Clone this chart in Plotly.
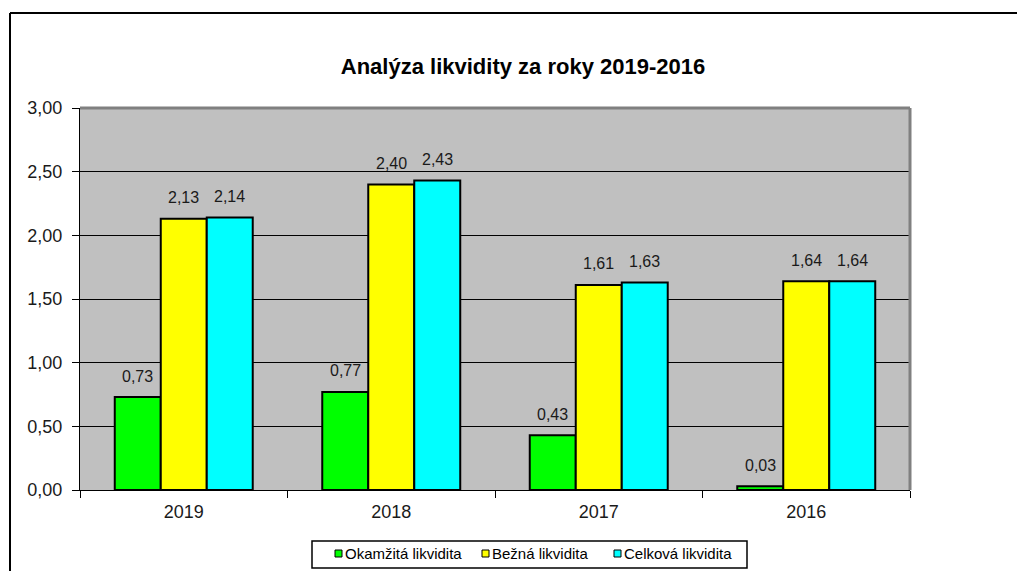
import plotly.graph_objects as go

categories = ["2019", "2018", "2017", "2016"]
okamzita = [0.73, 0.77, 0.43, 0.03]
bezna = [2.13, 2.40, 1.61, 1.64]
celkova = [2.14, 2.43, 1.63, 1.64]
series_names = ["Okamžitá likvidita", "Bežná likvidita", "Celková likvidita"]
series_colors = ["#00FF00", "#FFFF00", "#00FFFF"]
series_values = [okamzita, bezna, celkova]

FONT = "Liberation Sans, Arial, sans-serif"

W, H = 1017, 571
L, R, T, B = 80, W - 910, 108, H - 490
pw, ph = W - L - R, H - T - B


def px_x(p):
    return (p - L) / pw


def px_y(p):
    return (H - B - p) / ph


fig = go.Figure()
for name, color, vals in zip(series_names, series_colors, series_values):
    fig.add_trace(go.Bar(
        x=categories, y=vals, name=name,
        marker=dict(color=color, line=dict(color="#000000", width=2)),
        showlegend=False,
    ))

# data labels above bars
bar_px = (pw / len(categories)) * (1 - 0.335) / 3
annotations = []
for i, vals in enumerate(series_values):
    for ci, v in enumerate(vals):
        annotations.append(dict(
            x=ci, y=v, xref="x", yref="y",
            text=f"{v:.2f}".replace(".", ","),
            showarrow=False, xshift=(i - 1) * bar_px, yshift=21,
            yanchor="middle",
            font=dict(family=FONT, size=16, color="#1a1a1a"),
        ))

shapes = [
    # plot area top/right gray border
    dict(type="line", xref="paper", yref="paper", x0=0, x1=1, y0=1, y1=1,
         line=dict(color="#808080", width=3)),
    dict(type="line", xref="paper", yref="paper", x0=1, x1=1, y0=0, y1=1,
         line=dict(color="#808080", width=3)),
    # outer chart border
    dict(type="line", xref="paper", yref="paper", x0=px_x(10), x1=px_x(1030),
         y0=px_y(13), y1=px_y(13), line=dict(color="#000000", width=2)),
    dict(type="line", xref="paper", yref="paper", x0=px_x(10), x1=px_x(10),
         y0=px_y(13), y1=px_y(600), line=dict(color="#000000", width=2)),
    # legend box
    dict(type="rect", xref="paper", yref="paper",
         x0=px_x(312), x1=px_x(747), y0=px_y(541), y1=px_y(568),
         line=dict(color="#000000", width=1.5), fillcolor="#FFFFFF", layer="above"),
]

# legend entries (markers + text)
legend_marker_x = [335, 482, 614]
for mx, name, color in zip(legend_marker_x, series_names, series_colors):
    shapes.append(dict(
        type="rect", xref="paper", yref="paper",
        x0=px_x(mx), x1=px_x(mx + 7), y0=px_y(550), y1=px_y(557),
        line=dict(color="#000000", width=1), fillcolor=color, layer="above",
    ))
    annotations.append(dict(
        x=px_x(mx + 7.5), y=px_y(553.5), xref="paper", yref="paper",
        text=name, showarrow=False, xanchor="left", yanchor="middle",
        font=dict(family=FONT, size=15, color="#000000"),
    ))

fig.update_layout(
    width=W, height=H,
    margin=dict(l=L, r=R, t=T, b=B, autoexpand=False),
    paper_bgcolor="#FFFFFF",
    plot_bgcolor="#C0C0C0",
    separators=", ",
    showlegend=False,
    barmode="group", bargap=0.335, bargroupgap=0,
    title=dict(
        text="<b>Analýza likvidity za roky 2019-2016</b>",
        x=523 / W, xanchor="center", xref="container",
        y=1 - 66 / H, yanchor="middle", yref="container",
        font=dict(family=FONT, size=22, color="#000000"),
    ),
    font=dict(family=FONT, size=17, color="#000000"),
    xaxis=dict(
        type="category", categoryorder="array", categoryarray=categories,
        range=[-0.5, len(categories) - 0.5],
        tickson="boundaries", ticks="outside", ticklen=7,
        tickcolor="#000000", showline=True, linecolor="#000000", linewidth=1,
        showgrid=False, tickfont=dict(family=FONT, size=18, color="#1a1a1a"),
        ticklabelstandoff=5, tickangle=0,
    ),
    yaxis=dict(
        range=[0, 3], dtick=0.5, tickformat=".2f", ticks="outside", ticklen=7,
        tickcolor="#000000", showline=True, linecolor="#000000", linewidth=1,
        showgrid=True, gridcolor="#000000", gridwidth=1, zeroline=False,
        tickfont=dict(family=FONT, size=18, color="#1a1a1a"),
        ticklabelstandoff=6,
    ),
    annotations=annotations,
    shapes=shapes,
)

fig.write_html("out.html", config={"displayModeBar": False},
               post_script="document.body.style.margin='0';")
